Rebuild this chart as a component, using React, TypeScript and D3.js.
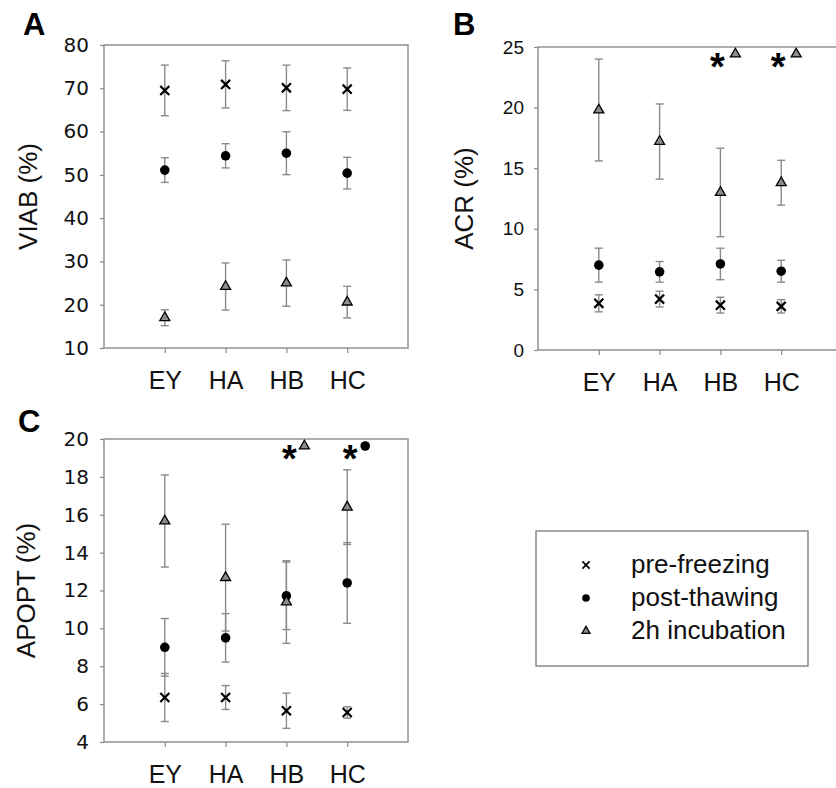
import React, { useEffect, useRef } from "react";
import * as d3 from "d3";

const categories = ["EY", "HA", "HB", "HC"];
const seriesNames = ["pre-freezing", "post-thawing", "2h incubation"];

// A: viability
const viabPre = [69.5, 70.9, 70.1, 69.8];
const viabPreErr = [5.85, 5.45, 5.25, 4.9];
const viabPost = [51.1, 54.4, 55.0, 50.4];
const viabPostErr = [2.85, 2.8, 4.95, 3.65];
const viabInc = [17.0, 24.2, 25.0, 20.6];
const viabIncErr = [1.85, 5.45, 5.35, 3.65];
const viabTicks = [10, 20, 30, 40, 50, 60, 70, 80];

// B: acrosome reaction
const acrPre = [3.85, 4.2, 3.7, 3.6];
const acrPreErr = [0.7, 0.65, 0.65, 0.55];
const acrPost = [7.0, 6.45, 7.1, 6.5];
const acrPostErr = [1.4, 0.85, 1.3, 0.9];
const acrInc = [19.8, 17.2, 13.0, 13.8];
const acrIncErr = [4.2, 3.1, 3.65, 1.85];
const acrTicks = [0, 5, 10, 15, 20, 25];

// C: apoptosis
const apoPre = [6.35, 6.35, 5.65, 5.56];
const apoPreErr = [1.27, 0.63, 0.93, 0.3];
const apoPost = [9.0, 9.5, 11.72, 12.4];
const apoPostErr = [1.52, 1.28, 1.78, 2.13];
const apoInc = [15.67, 12.68, 11.39, 16.4];
const apoIncErr = [2.43, 2.82, 2.18, 1.97];
const apoTicks = [4, 6, 8, 10, 12, 14, 16, 18, 20];

// significance marks: category + which series differs
const acrSig = [{ cat: "HB", series: 2 }, { cat: "HC", series: 2 }];
const apoSig = [{ cat: "HB", series: 2 }, { cat: "HC", series: 1 }];

const ARIAL = "'Liberation Sans', Arial, sans-serif";
const VERDANA = "'DejaVu Sans', Verdana, sans-serif";

const symbolTypes = [d3.symbolTimes, d3.symbolCircle, d3.symbolTriangle];

function drawMarker(g, series, cx, cy, scale = 1) {
  const sizes = [55, 72, 43];
  const path = d3.symbol(symbolTypes[series], sizes[series] * scale * scale)();
  const m = g.append("path").attr("d", path).attr("transform", `translate(${cx},${cy})`);
  if (series === 0) {
    m.attr("fill", "none").attr("stroke", "#000").attr("stroke-width", 2.2 * scale);
  } else if (series === 1) {
    m.attr("fill", "#000");
  } else {
    m.attr("fill", "#8c8c8c").attr("stroke", "#000").attr("stroke-width", 1.3);
  }
}

function drawPanel(svg, p) {
  const g = svg.append("g");
  const x = d3.scaleLinear().domain([0, categories.length + 1]).range([p.left, p.left + 304]);
  const y = d3.scaleLinear().domain(p.domain).range([p.bottom, p.top]);

  // frame
  g.append("rect")
    .attr("x", p.left).attr("y", p.top)
    .attr("width", 304).attr("height", p.bottom - p.top)
    .attr("fill", "none").attr("stroke", "#8a8a8a").attr("stroke-width", 1.4);

  const yAxis = g.append("g")
    .attr("transform", `translate(${p.left},0)`)
    .call(d3.axisLeft(y).tickValues(p.ticks).tickSize(4).tickPadding(p.tickPad));
  yAxis.select(".domain").remove();
  yAxis.selectAll("line").attr("stroke", "#8a8a8a").attr("stroke-width", 1.2);
  yAxis.selectAll("text")
    .attr("font-family", p.tickFont).attr("font-size", p.tickSize).attr("fill", "#111");

  const xAxis = g.append("g")
    .attr("transform", `translate(0,${p.bottom})`)
    .call(d3.axisBottom(x).tickValues([1, 2, 3, 4]).tickSize(5).tickFormat((d) => categories[d - 1]));
  xAxis.select(".domain").remove();
  xAxis.selectAll("line").attr("stroke", "#8a8a8a").attr("stroke-width", 1.2);
  xAxis.selectAll("text")
    .attr("dy", null).attr("y", 41)
    .attr("font-family", ARIAL).attr("font-size", 25).attr("fill", "#111");

  // y title
  g.append("text")
    .attr("transform", `translate(${p.titleX},${(p.top + p.bottom) / 2}) rotate(-90)`)
    .attr("text-anchor", "middle")
    .attr("font-family", ARIAL).attr("font-size", 26).attr("fill", "#111")
    .text(p.title);

  // panel letter
  g.append("text")
    .attr("x", p.letterX).attr("y", p.letterY)
    .attr("font-family", ARIAL).attr("font-weight", "bold").attr("font-size", 31)
    .text(p.letter);

  // error bars
  p.series.forEach((s) => {
    s.values.forEach((v, i) => {
      const cx = x(i + 1);
      const lo = y(v - s.err[i]);
      const hi = y(v + s.err[i]);
      g.append("line").attr("x1", cx).attr("x2", cx).attr("y1", lo).attr("y2", hi)
        .attr("stroke", "#8a8a8a").attr("stroke-width", 1.4);
      [lo, hi].forEach((yy) => {
        g.append("line").attr("x1", cx - 4).attr("x2", cx + 4).attr("y1", yy).attr("y2", yy)
          .attr("stroke", "#8a8a8a").attr("stroke-width", 1.4);
      });
    });
  });

  // markers
  p.series.forEach((s, si) => {
    s.values.forEach((v, i) => drawMarker(g, si, x(i + 1), y(v)));
  });

  // significance
  (p.sig || []).forEach((a) => {
    const cx = x(categories.indexOf(a.cat) + 1);
    g.append("text")
      .attr("x", cx + p.starDx).attr("y", p.top + 11 + 22)
      .attr("text-anchor", "middle")
      .attr("font-family", ARIAL).attr("font-weight", "bold").attr("font-size", 38)
      .text("*");
    drawMarker(g, a.series, cx + p.markDx, p.top + 7);
  });
}

export default function App() {
  const svgRef = useRef(null);

  useEffect(() => {
    const svg = d3.select(svgRef.current);
    svg.selectAll("*").remove();

    drawPanel(svg, {
      letter: "A", letterX: 23, letterY: 35,
      left: 104, top: 45, bottom: 348,
      domain: [10, 80], ticks: viabTicks, tickFont: VERDANA, tickSize: 20, tickPad: 11,
      title: "VIAB (%)", titleX: 37,
      series: [
        { values: viabPre, err: viabPreErr },
        { values: viabPost, err: viabPostErr },
        { values: viabInc, err: viabIncErr },
      ],
    });

    drawPanel(svg, {
      letter: "B", letterX: 453, letterY: 35,
      left: 538, top: 47, bottom: 350,
      domain: [0, 25], ticks: acrTicks, tickFont: ARIAL, tickSize: 19, tickPad: 10,
      title: "ACR (%)", titleX: 473,
      series: [
        { values: acrPre, err: acrPreErr },
        { values: acrPost, err: acrPostErr },
        { values: acrInc, err: acrIncErr },
      ],
      sig: acrSig, starDx: -3, markDx: 15,
    });

    drawPanel(svg, {
      letter: "C", letterX: 18, letterY: 432,
      left: 104, top: 439, bottom: 742,
      domain: [4, 20], ticks: apoTicks, tickFont: VERDANA, tickSize: 20, tickPad: 11,
      title: "APOPT (%)", titleX: 35,
      series: [
        { values: apoPre, err: apoPreErr },
        { values: apoPost, err: apoPostErr },
        { values: apoInc, err: apoIncErr },
      ],
      sig: apoSig, starDx: 3, markDx: 18,
    });

    // legend
    const lg = svg.append("g");
    lg.append("rect")
      .attr("x", 536).attr("y", 531).attr("width", 272).attr("height", 135)
      .attr("fill", "none").attr("stroke", "#777").attr("stroke-width", 1.3);
    seriesNames.forEach((name, i) => {
      const cy = 565 + i * 33;
      drawMarker(lg, i, 586, cy, 0.8);
      lg.append("text")
        .attr("x", 631).attr("y", cy + 8)
        .attr("font-family", ARIAL).attr("font-size", 26).attr("fill", "#111")
        .text(name);
    });
  }, []);

  return (
    <svg
      ref={svgRef}
      width={836}
      height={788}
      style={{ position: "absolute", left: 0, top: 0, background: "#fff" }}
    />
  );
}
